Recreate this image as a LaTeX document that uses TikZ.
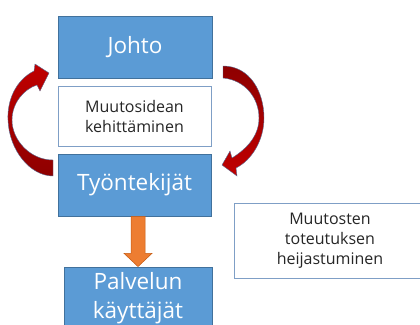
\documentclass[tikz,border=0pt]{standalone}
\usepackage{fontspec}
\setmainfont{Open Sans}
\usetikzlibrary{calc}
\definecolor{boxblue}{HTML}{5B9BD5}
\definecolor{boxedge}{HTML}{41719C}
\definecolor{arrred}{HTML}{C00000}
\definecolor{arrdark}{HTML}{8E0000}
\definecolor{arredge}{HTML}{5A6E96}
\definecolor{orangefill}{HTML}{ED7D31}
\definecolor{orangeedge}{HTML}{C55A11}
\definecolor{paleedge}{HTML}{7F9FC6}
\begin{document}
\begin{tikzpicture}[x=1pt,y=-1pt,
  bluebox/.style={draw=boxedge,fill=boxblue,line width=0.8pt,text=white,inner sep=0pt,align=center,font=\fontsize{22.5}{29}\selectfont},
  whitebox/.style={draw=paleedge,fill=white,line width=0.8pt,inner sep=0pt,align=center,text=black!85,font=\fontsize{16}{20}\selectfont},
  curvearrow/.style={draw=arredge,line width=0.4pt}]
\useasboundingbox (0,0) rectangle (420,324);
\clip (0,0) rectangle (420,324);
\node[bluebox,minimum width=154pt,minimum height=62pt] (johto) at (135,47) {Johto};
\node[whitebox,minimum width=153pt,minimum height=60pt] (idea) at (134.5,116) {Muutosidean\\kehittäminen};
\node[bluebox,minimum width=153pt,minimum height=62pt] (tyo) at (134.5,185) {Työntekijät};
\node[bluebox,minimum width=148pt,minimum height=62pt] (palv) at (138,298) {Palvelun\\käyttäjät};
\node[whitebox,minimum width=192pt,minimum height=75pt] (heij) at (330,240.5) {Muutosten\\toteutuksen\\heijastuminen};
% orange arrow from tyo to palv
\coordinate (oa) at (tyo.south -| palv.north);
\filldraw[fill=orangefill,draw=orangeedge,line width=0.5pt]
  ($(oa)+(-7,0)$) -- ($(oa)+(-7,37)$) -- ($(oa)+(-14,37)$) -- (palv.north)
  -- ($(oa)+(14,37)$) -- ($(oa)+(7,37)$) -- ($(oa)+(7,0)$) -- cycle;
% left curved arrow (tyo -> johto)
\shade[curvearrow,top color=arrred,bottom color=arrdark]
  (53,160) .. controls (30,160) and (12,140) .. (12,120)
  .. controls (12,103) and (24,89) .. (37,85)
  -- (40,91) -- (49,73) -- (35,64) -- (34,71)
  .. controls (16,80) and (7,100) .. (8,120)
  .. controls (9,150) and (30,176) .. (53,176) -- cycle;
% right curved arrow (johto -> tyo)
\shade[curvearrow,top color=arrdark,bottom color=arrred]
  (223,66) .. controls (250,66) and (264,92) .. (264,118)
  .. controls (264,140) and (252,160) .. (236,168)
  -- (237,176) -- (222,165) -- (230,151) -- (232,158)
  .. controls (248,148) and (259,135) .. (259,118)
  .. controls (259,98) and (245,80) .. (223,78) -- cycle;
\end{tikzpicture}
\end{document}
